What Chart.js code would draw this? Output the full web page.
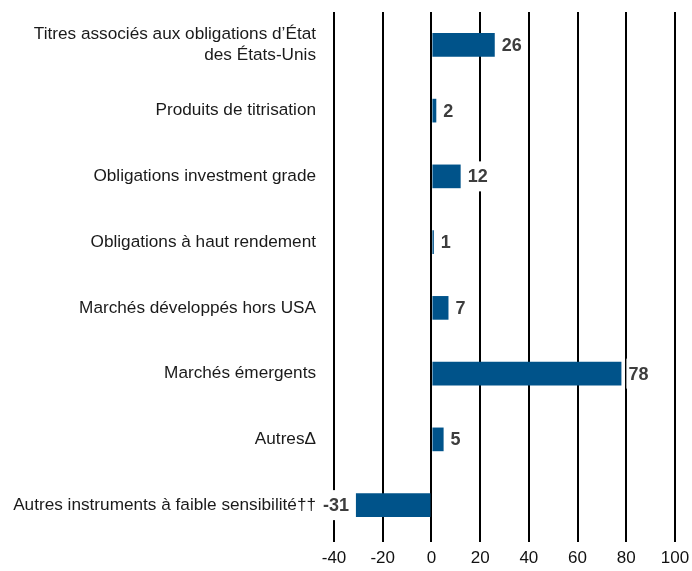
<!DOCTYPE html>
<html>
<head>
<meta charset="utf-8">
<script src="https://cdn.jsdelivr.net/npm/chart.js@4/dist/chart.umd.min.js"></script>
<style>
  html, body { margin: 0; padding: 0; background: #ffffff; }
  #wrap { width: 692px; height: 571px; position: relative; }
</style>
</head>
<body>
<div id="wrap"><canvas id="c" width="692" height="571"></canvas></div>
<script>
const categories = [
  ["Titres associés aux obligations d\u2019État", "des États-Unis"],
  "Produits de titrisation",
  "Obligations investment grade",
  "Obligations à haut rendement",
  "Marchés développés hors USA",
  "Marchés émergents",
  "Autres\u0394",
  "Autres instruments à faible sensibilité\u2020\u2020"
];
const values = [26, 2, 12, 1, 7, 78, 5, -31];
const xTicks = [-40, -20, 0, 20, 40, 60, 80, 100];

const FONT = "'Liberation Sans', Arial, sans-serif";

const valueLabels = {
  id: 'valueLabels',
  afterDatasetsDraw(chart) {
    const ctx = chart.ctx;
    const meta = chart.getDatasetMeta(0);
    ctx.save();
    ctx.font = "bold 18px " + FONT;
    ctx.textBaseline = 'middle';
    meta.data.forEach((bar, i) => {
      const v = values[i];
      const txt = String(v);
      const w = ctx.measureText(txt).width;
      let x, left;
      if (v >= 0) {
        x = bar.x + 7;
        left = x - 2;
        ctx.textAlign = 'left';
      } else {
        x = bar.x - 7;
        left = x - w - 2;
        ctx.textAlign = 'right';
      }
      ctx.fillStyle = '#ffffff';
      ctx.fillRect(left, bar.y - 15, w + 4, 30);
      ctx.fillStyle = '#3d3d3d';
      ctx.fillText(txt, x, bar.y + 1);
    });
    ctx.restore();
  }
};

new Chart(document.getElementById('c'), {
  type: 'bar',
  data: {
    labels: categories,
    datasets: [{
      data: values,
      backgroundColor: '#00538a',
      borderWidth: 0,
      categoryPercentage: 1,
      barPercentage: 0.36
    }]
  },
  options: {
    indexAxis: 'y',
    responsive: false,
    animation: false,
    devicePixelRatio: 1,
    layout: { padding: { top: 12, left: 0, right: 17, bottom: 0 } },
    plugins: { legend: { display: false }, tooltip: { enabled: false } },
    scales: {
      x: {
        type: 'linear',
        min: -40,
        max: 100,
        afterBuildTicks: (s) => { s.ticks = xTicks.map(v => ({ value: v })); },
        afterFit: (s) => { s.height = 33; s.paddingLeft = 0; s.paddingRight = 0; },
        grid: { color: '#000000', lineWidth: 2, tickLength: 4, drawOnChartArea: true },
        border: { display: false },
        ticks: {
          color: '#111111',
          font: { family: FONT, size: 17 },
          padding: 6,
          maxRotation: 0
        }
      },
      y: {
        afterFit: (s) => { s.width = 334; s.paddingTop = 0; s.paddingBottom = 0; },
        grid: { display: false, drawTicks: false },
        border: { display: false },
        ticks: {
          color: '#1a1a1a',
          font: { family: FONT, size: 17.2, lineHeight: 1.22 },
          padding: 18,
          autoSkip: false
        }
      }
    }
  },
  plugins: [valueLabels]
});
</script>
</body>
</html>
